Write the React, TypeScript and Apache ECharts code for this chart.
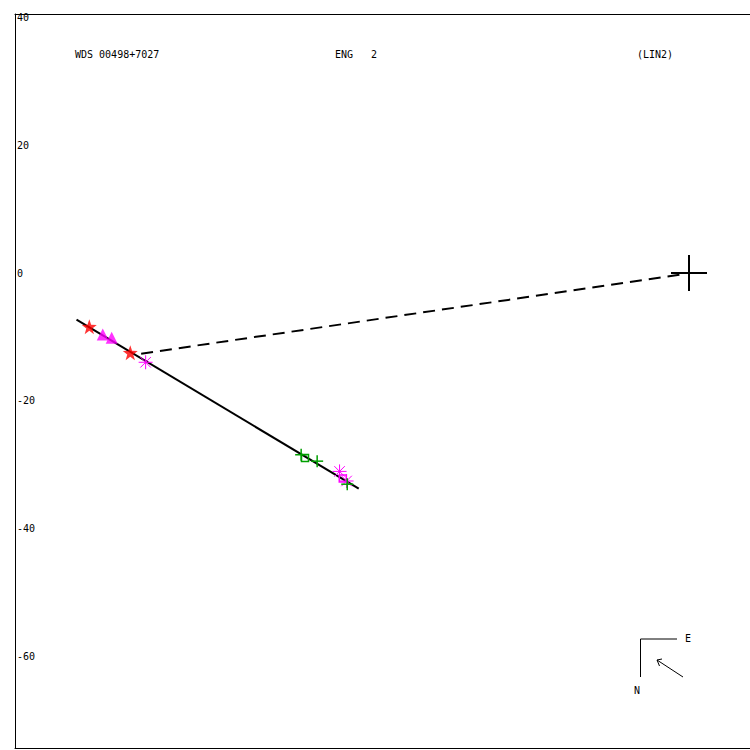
import React, { useEffect, useRef } from "react";
import * as echarts from "echarts";

// Relative positions (x, y), primary at origin
const fitLine = [
  [-95.7, -7.3],
  [-51.6, -33.7],
];
const dashedLine = [
  [-85.6, -12.6],
  [-0.9, -0.2],
];
const primary = [[0, 0]];
const redStars = [
  [-93.7, -8.4],
  [-87.3, -12.45],
];
const magentaTriangles = [
  [-91.6, -9.6],
  [-90.2, -10.1],
];
const magentaAsterisks = [
  [-84.9, -13.95],
  [-54.6, -31.0],
  [-53.5, -32.5],
];
const magentaSquares = [[-54.1, -32.1]];
const greenPluses = [
  [-60.6, -28.4],
  [-58.1, -29.4],
  [-53.4, -33.0],
];
const greenSquares = [[-60.0, -28.9]];
const yTickLabels = [-60, -40, -20, 0, 20, 40];

const titleLeft = "WDS 00498+7027";
const titleMid = "ENG   2";
const titleRight = "(LIN2)";

const MAGENTA = "#ff00ff";
const GREEN = "#00a000";
const RED = "#ff0000";

function markerSeries(name: string, data: number[][], kind: string, color: string) {
  return {
    name,
    type: "custom",
    data,
    z: 5,
    renderItem: (params: any, api: any) => {
      const p = api.coord([api.value(0), api.value(1)]);
      const x = p[0];
      const y = p[1];
      const children: any[] = [];
      if (kind === "plus") {
        const r = 6;
        children.push({ type: "line", shape: { x1: x - r, y1: y, x2: x + r, y2: y }, style: { stroke: color, lineWidth: 1.5 } });
        children.push({ type: "line", shape: { x1: x, y1: y - r, x2: x, y2: y + r }, style: { stroke: color, lineWidth: 1.5 } });
      } else if (kind === "asterisk") {
        const r = 7;
        const d = r * 0.75;
        const segs = [
          [x - r, y, x + r, y],
          [x, y - r, x, y + r],
          [x - d, y - d, x + d, y + d],
          [x - d, y + d, x + d, y - d],
        ];
        segs.forEach((s) =>
          children.push({ type: "line", shape: { x1: s[0], y1: s[1], x2: s[2], y2: s[3] }, style: { stroke: color, lineWidth: 1 } })
        );
      } else if (kind === "square") {
        children.push({ type: "rect", shape: { x: x - 3.5, y: y - 3.5, width: 7, height: 7 }, style: { fill: "none", stroke: color, lineWidth: 1.5 } });
      } else if (kind === "bigcross") {
        const r = 18;
        children.push({ type: "line", shape: { x1: x - r, y1: y, x2: x + r, y2: y }, style: { stroke: "#000", lineWidth: 2 } });
        children.push({ type: "line", shape: { x1: x, y1: y - r, x2: x, y2: y + r }, style: { stroke: "#000", lineWidth: 2 } });
      }
      return { type: "group", children };
    },
  };
}

const STAR =
  "path://M0,-10 L2.35,-3.24 L9.51,-3.09 L3.8,1.24 L5.88,8.09 L0,4 L-5.88,8.09 L-3.8,1.24 L-9.51,-3.09 L-2.35,-3.24 Z";

export default function App() {
  const ref = useRef<HTMLDivElement>(null);
  useEffect(() => {
    if (!ref.current) return;
    const chart = echarts.init(ref.current, undefined, { renderer: "svg" });
    const font = "DejaVu Sans Mono";
    const frameAxis = {
      type: "value",
      min: -105.31,
      max: 9.53,
      axisLine: { show: true, onZero: false, lineStyle: { color: "#000", width: 1 } },
      axisTick: { show: false },
      axisLabel: { show: false },
      splitLine: { show: false },
    };
    chart.setOption({
      animation: false,
      backgroundColor: "#fff",
      textStyle: { fontFamily: font },
      grid: {
        left: 15,
        top: 14,
        right: 0,
        bottom: 2,
        show: false,
        containLabel: false,
      },
      xAxis: [
        { ...frameAxis, position: "bottom" },
        { ...frameAxis, position: "top" },
      ],
      yAxis: {
        type: "value",
        min: -74.22,
        max: 40.47,
        axisLine: { show: true, onZero: false, lineStyle: { color: "#000", width: 1 } },
        axisTick: { show: false },
        splitLine: { show: false },
        axisLabel: {
          inside: true,
          margin: 2,
          color: "#000",
          fontSize: 10,
          fontFamily: font,
          customValues: yTickLabels,
          showMinLabel: true,
          showMaxLabel: true,
        },
      },
      series: [
        {
          name: "fit",
          type: "line",
          data: fitLine,
          symbol: "none",
          lineStyle: { color: "#000", width: 2 },
          z: 3,
        },
        {
          name: "dashed",
          type: "line",
          data: dashedLine,
          symbol: "none",
          lineStyle: { color: "#000", width: 2, type: [12, 7] },
          z: 3,
        },
        markerSeries("primary", primary, "bigcross", "#000"),
        {
          name: "stars",
          type: "scatter",
          data: redStars,
          symbol: STAR,
          symbolSize: 15,
          itemStyle: { color: RED },
          z: 4,
        },
        {
          name: "triangles",
          type: "scatter",
          data: magentaTriangles,
          symbol: "triangle",
          symbolSize: 12,
          itemStyle: { color: MAGENTA },
          z: 4,
        },
        markerSeries("asterisks", magentaAsterisks, "asterisk", MAGENTA),
        markerSeries("msquares", magentaSquares, "square", MAGENTA),
        markerSeries("pluses", greenPluses, "plus", GREEN),
        markerSeries("gsquares", greenSquares, "square", GREEN),
      ],
      graphic: [
        { type: "text", left: 75, top: 49, style: { text: titleLeft, fontFamily: font, fontSize: 10, fill: "#000" } },
        { type: "text", left: 335, top: 49, style: { text: titleMid, fontFamily: font, fontSize: 10, fill: "#000" } },
        { type: "text", left: 637, top: 49, style: { text: titleRight, fontFamily: font, fontSize: 10, fill: "#000" } },
        { type: "polyline", shape: { points: [[677, 639], [640.5, 639], [640.5, 677]] }, style: { stroke: "#000", lineWidth: 1, fill: "none" } },
        { type: "text", left: 685, top: 633, style: { text: "E", fontFamily: font, fontSize: 10, fill: "#000" } },
        { type: "text", left: 634, top: 685, style: { text: "N", fontFamily: font, fontSize: 10, fill: "#000" } },
        { type: "line", shape: { x1: 683, y1: 677, x2: 657, y2: 660 }, style: { stroke: "#000", lineWidth: 1 } },
        { type: "polyline", shape: { points: [[662, 659], [657, 660], [659.5, 666]] }, style: { stroke: "#000", lineWidth: 1, fill: "none" } },
      ],
    });
    return () => chart.dispose();
  }, []);
  return (
    <div
      ref={ref}
      style={{ position: "fixed", left: 0, top: 0, width: 750, height: 750 }}
    />
  );
}
